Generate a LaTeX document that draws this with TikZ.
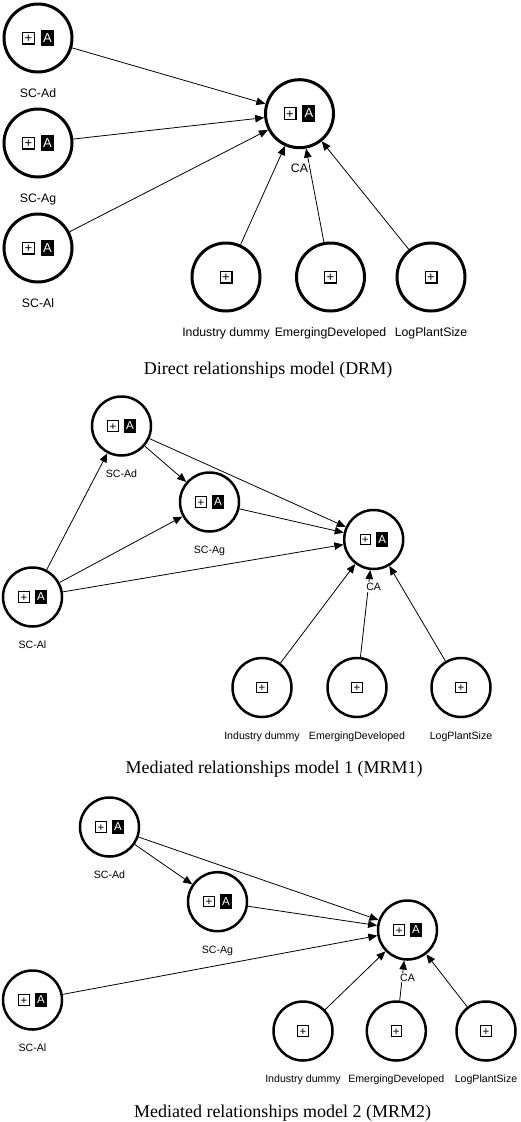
\documentclass[tikz,border=0pt]{standalone}
\usepackage{fontspec}
\setmainfont{Liberation Serif}
\setsansfont{Liberation Sans}
\usetikzlibrary{positioning,arrows.meta}

\newcommand{\plusicon}{{\setlength{\fboxsep}{0pt}\setlength{\fboxrule}{0.085em}\raisebox{-0.1em}{\fbox{\makebox[0.83em]{\rule{0pt}{0.83em}\raisebox{0.06em}{+}}}}}}
\newcommand{\letterA}{{\setlength{\fboxsep}{0pt}\colorbox{black}{\makebox[1em]{\rule[-0.325em]{0pt}{1.28em}\textcolor{white}{A}}}}}
\newcommand{\latent}{\plusicon\hspace{0.46em}\letterA}

\begin{document}
\begin{tikzpicture}[x=1pt,y=-1pt,
	big/.style={circle,draw,line width=3pt,minimum size=68pt,inner sep=0pt,font=\sffamily\fontsize{13}{15}\selectfont},
	small/.style={big,line width=2.5pt,minimum size=59pt,font=\sffamily\fontsize{11.5}{13}\selectfont},
	big name/.style={font=\sffamily\fontsize{12.3}{14}\selectfont,inner sep=0pt},
	small name/.style={font=\sffamily\fontsize{10.6}{12}\selectfont,inner sep=0pt},
	link/.style={-{Triangle[length=9pt,width=7.5pt]},line width=0.8pt},
	caption/.style={font=\fontsize{18}{22}\selectfont,inner sep=0pt,anchor=base}]

	\useasboundingbox (0,0) rectangle (520,1122);

	\node (ad 1) [big] at (38,38) {\latent};
	\node (ag 1) [big] at (38,143) {\latent};
	\node (al 1) [big] at (38,248) {\latent};
	\node (ca 1) [big] at (299.5,113.7) {\latent};
	\node (dummy 1) [big] at (226,277) {\plusicon};
	\node (emerging 1) [big] at (330.5,277) {\plusicon};
	\node (size 1) [big] at (431,277) {\plusicon};

	\draw[link] (ad 1) -- (ca 1);
	\draw[link] (ag 1) -- (ca 1);
	\draw[link] (al 1) -- (ca 1);
	\draw[link] (dummy 1) -- (ca 1);
	\draw[link] (emerging 1) -- (ca 1);
	\draw[link] (size 1) -- (ca 1);

	\node (ad label 1) [big name,below=15pt of ad 1] {SC-Ad};
	\node (ag label 1) [big name,below=15pt of ag 1] {SC-Ag};
	\node (al label 1) [big name,below=15pt of al 1] {SC-Al};
	\node (ca label 1) [big name,fill=white,inner sep=1pt,below=14pt of ca 1] {CA};
	\node (dummy label 1) [big name,below=15pt of dummy 1] {Industry dummy};
	\node (emerging label 1) [big name,below=15pt of emerging 1] {EmergingDeveloped};
	\node (size label 1) [big name,below=15pt of size 1] {LogPlantSize};
	\node (drm caption) [caption] at (268,374) {Direct relationships model (DRM)};


	\node (ad 2) [small] at (121.5,426) {\latent};
	\node (ag 2) [small] at (209.5,502) {\latent};
	\node (al 2) [small] at (32.5,597) {\latent};
	\node (ca 2) [small] at (373.7,539.5) {\latent};
	\node (dummy 2) [small] at (262,687.5) {\plusicon};
	\node (emerging 2) [small] at (357,687.5) {\plusicon};
	\node (size 2) [small] at (461,687.5) {\plusicon};

	\draw[link] (al 2) -- (ad 2);
	\draw[link] (al 2) -- (ag 2);
	\draw[link] (al 2) -- (ca 2);
	\draw[link] (ad 2) -- (ag 2);
	\draw[link] (ad 2) -- (ca 2);
	\draw[link] (ag 2) -- (ca 2);
	\draw[link] (dummy 2) -- (ca 2);
	\draw[link] (emerging 2) -- (ca 2);
	\draw[link] (size 2) -- (ca 2);

	\node (ad label 2) [small name,below=13pt of ad 2] {SC-Ad};
	\node (ag label 2) [small name,below=13pt of ag 2] {SC-Ag};
	\node (al label 2) [small name,below=13pt of al 2] {SC-Al};
	\node (ca label 2) [small name,fill=white,inner sep=1pt,below=12pt of ca 2] {CA};
	\node (dummy label 2) [small name,below=13pt of dummy 2] {Industry dummy};
	\node (emerging label 2) [small name,below=13pt of emerging 2] {EmergingDeveloped};
	\node (size label 2) [small name,below=13pt of size 2] {LogPlantSize};
	\node (mrm1 caption) [caption] at (274,773.5) {Mediated relationships model 1 (MRM1)};


	\node (ad 3) [small] at (109.5,827) {\latent};
	\node (ag 3) [small] at (217.5,901.7) {\latent};
	\node (al 3) [small] at (32.5,1000) {\latent};
	\node (ca 3) [small] at (407.5,930) {\latent};
	\node (dummy 3) [small] at (303,1031) {\plusicon};
	\node (emerging 3) [small] at (396.3,1031) {\plusicon};
	\node (size 3) [small] at (486,1031) {\plusicon};

	\draw[link] (ad 3) -- (ag 3);
	\draw[link] (ad 3) -- (ca 3);
	\draw[link] (ag 3) -- (ca 3);
	\draw[link] (al 3) -- (ca 3);
	\draw[link] (dummy 3) -- (ca 3);
	\draw[link] (emerging 3) -- (ca 3);
	\draw[link] (size 3) -- (ca 3);

	\node (ad label 3) [small name,below=13pt of ad 3] {SC-Ad};
	\node (ag label 3) [small name,below=13pt of ag 3] {SC-Ag};
	\node (al label 3) [small name,below=13pt of al 3] {SC-Al};
	\node (ca label 3) [small name,fill=white,inner sep=1pt,below=12pt of ca 3] {CA};
	\node (dummy label 3) [small name,below=13pt of dummy 3] {Industry dummy};
	\node (emerging label 3) [small name,below=13pt of emerging 3] {EmergingDeveloped};
	\node (size label 3) [small name,below=13pt of size 3] {LogPlantSize};
	\node (mrm2 caption) [caption] at (282.5,1117.3) {Mediated relationships model 2 (MRM2)};

\end{tikzpicture}
\end{document}
